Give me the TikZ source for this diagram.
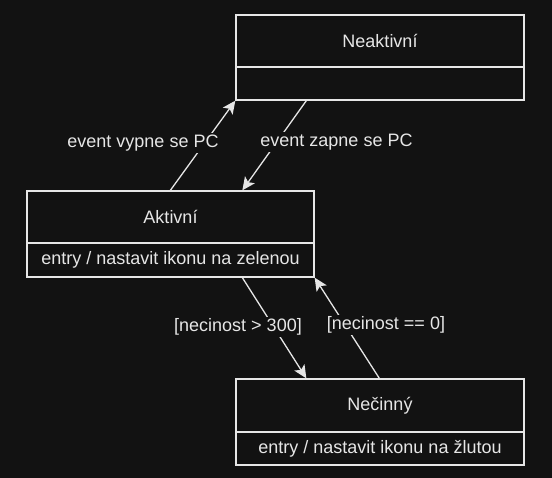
\documentclass[tikz,border=0pt]{standalone}
\usepackage{fontspec}
\setmainfont{Liberation Sans}
\usetikzlibrary{arrows.meta,calc}
\definecolor{bg}{HTML}{121212}
\definecolor{fg}{HTML}{E6E6E6}
\begin{document}
\begin{tikzpicture}[x=1pt,y=-1pt,
  part/.style={draw=fg, line width=1.3pt, fill=bg, rectangle, inner sep=0pt, text=fg, font=\fontsize{18}{20}\selectfont},
  arr/.style={draw=fg, line width=1.3pt, -{Stealth[length=13pt,width=12pt,inset=3pt]}},
  lbl/.style={fill=bg, text=fg, inner sep=2pt, font=\fontsize{18}{20}\selectfont}]
\fill[bg] (0,0) rectangle (552,478);
\useasboundingbox (0,0) rectangle (552,478);
% states
\node[part, minimum width=288pt, minimum height=52pt] (neakH) at (380,41) {Neaktivní};
\node[part, minimum width=288pt, minimum height=33pt] (neakB) at (380,83.5) {};
\node[part, minimum width=287pt, minimum height=52pt] (aktH) at (170.5,217) {Aktivní};
\node[part, minimum width=287pt, minimum height=34pt] (aktB) at (170.5,260) {entry / nastavit ikonu na zelenou};
\node[part, minimum width=288pt, minimum height=53pt] (necH) at (380,405.5) {Nečinný};
\node[part, minimum width=288pt, minimum height=33pt] (necB) at (380,448.5) {entry / nastavit ikonu na žlutou};
% transitions
\draw[arr] ($(aktH.north west)+(144,0)$) -- (neakB.south west);
\node[lbl] (l1) at (143,143) {event vypne se PC};
\draw[arr] ($(neakB.south west)+(71,0)$) -- ($(aktH.north west)+(216,0)$);
\node[lbl] (l2) at (336.5,142) {event zapne se PC};
\draw[arr] ($(aktB.south west)+(216,0)$) -- ($(necH.north west)+(71,0)$);
\node[lbl] (l3) at (238,327) {[necinost > 300]};
\draw[arr] ($(necH.north west)+(144,0)$) -- (aktB.south east);
\node[lbl] (l4) at (386,325) {[necinost == 0]};
\end{tikzpicture}
\end{document}
